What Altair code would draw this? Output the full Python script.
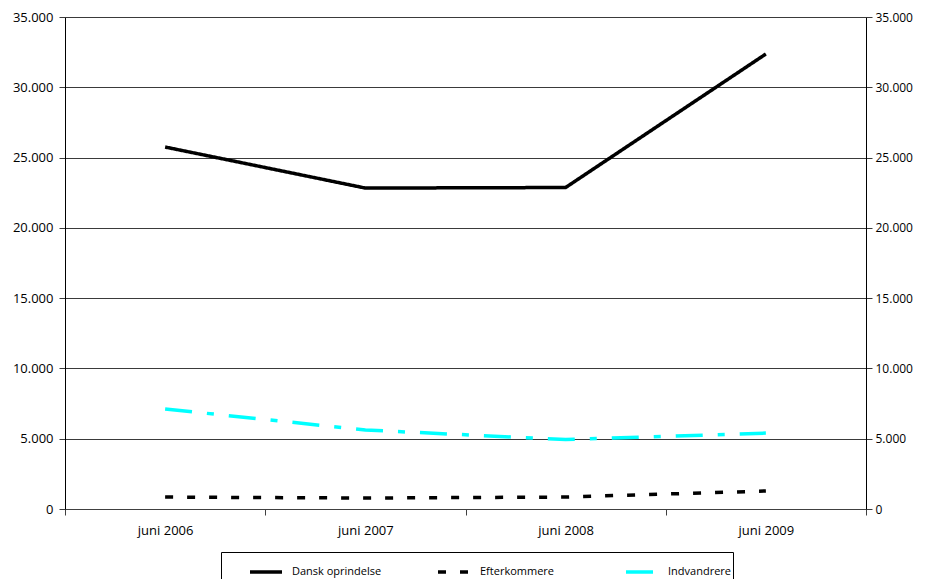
import altair as alt
import pandas as pd

months = ["juni 2006", "juni 2007", "juni 2008", "juni 2009"]
dansk = [25750, 22830, 22870, 32370]
efterkommere = [850, 780, 850, 1280]
indvandrere = [7115, 5620, 4940, 5400]
series = ["Dansk oprindelse", "Efterkommere", "Indvandrere"]

rows = []
for name, vals in zip(series, [dansk, efterkommere, indvandrere]):
    for m, v in zip(months, vals):
        rows.append({"month": m, "value": v, "series": name})
df = pd.DataFrame(rows)

FONT = "Open Sans"
label_expr = "replace(format(datum.value, ','), ',', '.')"

legend = alt.Legend(
    title=None, orient="none", legendX=156, legendY=535,
    direction="horizontal", columns=3, gridAlign="all",
    columnPadding=29, symbolType="stroke", symbolSize=1024,
    symbolStrokeWidth=3.5, symbolOffset=25, labelOffset=8,
    labelFontSize=11, labelFont=FONT, labelColor="black", labelLimit=200,
    strokeColor="black", fillColor="white", padding=2,
)

xenc = alt.X(
    "month:N",
    sort=months,
    bandPosition=0.5,
    scale=alt.Scale(type="band", paddingInner=0, paddingOuter=0),
    axis=alt.Axis(
        title=None, tickBand="extent", labelAngle=0, grid=False,
        domainColor="#404040", tickColor="#404040", tickSize=6,
        labelPadding=9, labelFontSize=13, labelFont=FONT, labelColor="black",
    ),
)

yscale = alt.Scale(domain=[0, 35000], nice=False)

lines = alt.Chart(df).mark_line(strokeWidth=3.5, strokeJoin="miter").encode(
    x=xenc,
    y=alt.Y(
        "value:Q", scale=yscale,
        axis=alt.Axis(
            title=None, values=list(range(0, 35001, 5000)), labelExpr=label_expr,
            grid=True, gridColor="#3a3a3a", gridWidth=1, domainColor="black",
            tickColor="#3a3a3a", tickSize=6, labelPadding=6, labelFontSize=13,
            labelFont=FONT, labelColor="black", orient="left",
        ),
    ),
    color=alt.Color(
        "series:N",
        scale=alt.Scale(domain=series, range=["#000000", "#000000", "#00FFFF"]),
        legend=legend,
    ),
    strokeDash=alt.StrokeDash(
        "series:N",
        scale=alt.Scale(domain=series, range=[[1, 0], [8, 14], [27, 15, 7, 15]]),
        legend=legend,
    ),
)

right = alt.Chart(df).mark_line(opacity=0).encode(
    x=xenc,
    y=alt.Y(
        "value:Q", scale=yscale,
        axis=alt.Axis(
            title=None, values=list(range(0, 35001, 5000)), labelExpr=label_expr,
            grid=False, domainColor="black", tickColor="#3a3a3a", tickSize=6,
            labelPadding=3, labelFontSize=12, labelFont=FONT, labelColor="black",
            orient="right",
        ),
    ),
    detail="series:N",
)

chart = (
    alt.layer(lines, right)
    .resolve_scale(y="independent")
    .properties(
        width=801, height=492,
        autosize=alt.AutoSizeParams(type="none"),
        padding={"left": 57, "top": 9, "right": 51, "bottom": 70},
    )
    .configure_view(stroke=None)
    .configure(background="white")
)

chart.save("out.html", embed_options={"renderer": "svg", "actions": False})
